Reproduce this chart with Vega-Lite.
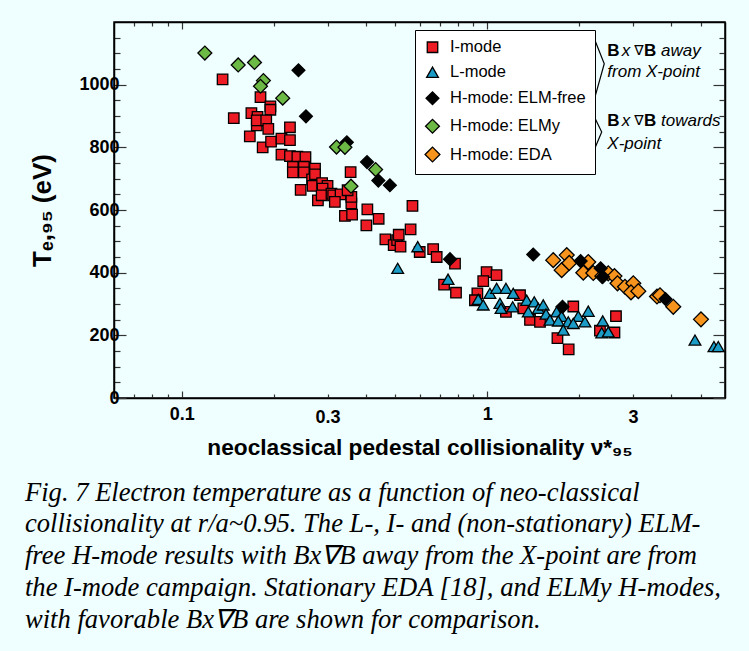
{
  "$schema": "https://vega.github.io/schema/vega-lite/v6.json",
  "width": 611,
  "height": 376,
  "autosize": "none",
  "padding": {"left": 114, "top": 22, "right": 24, "bottom": 253},
  "background": "#effefe",
  "title": {
    "text": [
      "Fig. 7 Electron temperature as a function of neo-classical",
      "collisionality at r/a~0.95. The L-, I- and (non-stationary) ELM-",
      "free H-mode results with Bx∇B away from the X-point are from",
      "the I-mode campaign. Stationary EDA [18], and ELMy H-modes,",
      "with favorable Bx∇B are shown for comparison."
    ],
    "orient": "bottom",
    "anchor": "start",
    "frame": "bounds",
    "font": "Liberation Serif",
    "fontStyle": "italic",
    "fontWeight": "normal",
    "fontSize": 26.6,
    "lineHeight": 31.8,
    "color": "black",
    "offset": 21,
    "dx": -5
  },
  "datasets": {
    "pts": [
      {"mode": "I-mode", "nu": 0.136, "te": 1017},
      {"mode": "I-mode", "nu": 0.148, "te": 893},
      {"mode": "I-mode", "nu": 0.169, "te": 909},
      {"mode": "I-mode", "nu": 0.177, "te": 897},
      {"mode": "I-mode", "nu": 0.176, "te": 870},
      {"mode": "I-mode", "nu": 0.176, "te": 886},
      {"mode": "I-mode", "nu": 0.181, "te": 960},
      {"mode": "I-mode", "nu": 0.195, "te": 931},
      {"mode": "I-mode", "nu": 0.195, "te": 920},
      {"mode": "I-mode", "nu": 0.189, "te": 886},
      {"mode": "I-mode", "nu": 0.192, "te": 859},
      {"mode": "I-mode", "nu": 0.167, "te": 835},
      {"mode": "I-mode", "nu": 0.184, "te": 800},
      {"mode": "I-mode", "nu": 0.196, "te": 818},
      {"mode": "I-mode", "nu": 0.212, "te": 828},
      {"mode": "I-mode", "nu": 0.226, "te": 823},
      {"mode": "I-mode", "nu": 0.226, "te": 864},
      {"mode": "I-mode", "nu": 0.212, "te": 777},
      {"mode": "I-mode", "nu": 0.226, "te": 772},
      {"mode": "I-mode", "nu": 0.239, "te": 770},
      {"mode": "I-mode", "nu": 0.254, "te": 769},
      {"mode": "I-mode", "nu": 0.231, "te": 738},
      {"mode": "I-mode", "nu": 0.231, "te": 720},
      {"mode": "I-mode", "nu": 0.251, "te": 738},
      {"mode": "I-mode", "nu": 0.251, "te": 720},
      {"mode": "I-mode", "nu": 0.245, "te": 664},
      {"mode": "I-mode", "nu": 0.267, "te": 698},
      {"mode": "I-mode", "nu": 0.273, "te": 732},
      {"mode": "I-mode", "nu": 0.273, "te": 714},
      {"mode": "I-mode", "nu": 0.268, "te": 677},
      {"mode": "I-mode", "nu": 0.279, "te": 631},
      {"mode": "I-mode", "nu": 0.288, "te": 686},
      {"mode": "I-mode", "nu": 0.300, "te": 677},
      {"mode": "I-mode", "nu": 0.289, "te": 668},
      {"mode": "I-mode", "nu": 0.287, "te": 647},
      {"mode": "I-mode", "nu": 0.309, "te": 652},
      {"mode": "I-mode", "nu": 0.313, "te": 647},
      {"mode": "I-mode", "nu": 0.331, "te": 650},
      {"mode": "I-mode", "nu": 0.317, "te": 626},
      {"mode": "I-mode", "nu": 0.342, "te": 581},
      {"mode": "I-mode", "nu": 0.361, "te": 585},
      {"mode": "I-mode", "nu": 0.359, "te": 621},
      {"mode": "I-mode", "nu": 0.359, "te": 642},
      {"mode": "I-mode", "nu": 0.349, "te": 663},
      {"mode": "I-mode", "nu": 0.357, "te": 721},
      {"mode": "I-mode", "nu": 0.405, "te": 602},
      {"mode": "I-mode", "nu": 0.402, "te": 551},
      {"mode": "I-mode", "nu": 0.441, "te": 572},
      {"mode": "I-mode", "nu": 0.569, "te": 613},
      {"mode": "I-mode", "nu": 0.561, "te": 538},
      {"mode": "I-mode", "nu": 0.464, "te": 506},
      {"mode": "I-mode", "nu": 0.494, "te": 488},
      {"mode": "I-mode", "nu": 0.507, "te": 504},
      {"mode": "I-mode", "nu": 0.513, "te": 521},
      {"mode": "I-mode", "nu": 0.520, "te": 483},
      {"mode": "I-mode", "nu": 0.601, "te": 466},
      {"mode": "I-mode", "nu": 0.665, "te": 475},
      {"mode": "I-mode", "nu": 0.683, "te": 450},
      {"mode": "I-mode", "nu": 0.784, "te": 429},
      {"mode": "I-mode", "nu": 0.722, "te": 362},
      {"mode": "I-mode", "nu": 0.790, "te": 336},
      {"mode": "I-mode", "nu": 0.995, "te": 402},
      {"mode": "I-mode", "nu": 1.072, "te": 392},
      {"mode": "I-mode", "nu": 0.970, "te": 373},
      {"mode": "I-mode", "nu": 0.928, "te": 334},
      {"mode": "I-mode", "nu": 0.911, "te": 312},
      {"mode": "I-mode", "nu": 1.280, "te": 328},
      {"mode": "I-mode", "nu": 1.151, "te": 275},
      {"mode": "I-mode", "nu": 1.312, "te": 286},
      {"mode": "I-mode", "nu": 1.380, "te": 249},
      {"mode": "I-mode", "nu": 1.488, "te": 243},
      {"mode": "I-mode", "nu": 1.697, "te": 191},
      {"mode": "I-mode", "nu": 1.847, "te": 155},
      {"mode": "I-mode", "nu": 1.912, "te": 292},
      {"mode": "I-mode", "nu": 2.638, "te": 261},
      {"mode": "I-mode", "nu": 2.338, "te": 215},
      {"mode": "I-mode", "nu": 2.608, "te": 209},
      {"mode": "L-mode", "nu": 0.509, "te": 414},
      {"mode": "L-mode", "nu": 0.592, "te": 483},
      {"mode": "L-mode", "nu": 0.744, "te": 379},
      {"mode": "L-mode", "nu": 0.934, "te": 315},
      {"mode": "L-mode", "nu": 0.970, "te": 297},
      {"mode": "L-mode", "nu": 1.020, "te": 334},
      {"mode": "L-mode", "nu": 1.073, "te": 350},
      {"mode": "L-mode", "nu": 1.151, "te": 350},
      {"mode": "L-mode", "nu": 1.216, "te": 334},
      {"mode": "L-mode", "nu": 1.100, "te": 302},
      {"mode": "L-mode", "nu": 1.109, "te": 286},
      {"mode": "L-mode", "nu": 1.211, "te": 291},
      {"mode": "L-mode", "nu": 1.346, "te": 312},
      {"mode": "L-mode", "nu": 1.425, "te": 307},
      {"mode": "L-mode", "nu": 1.362, "te": 275},
      {"mode": "L-mode", "nu": 1.469, "te": 286},
      {"mode": "L-mode", "nu": 1.525, "te": 297},
      {"mode": "L-mode", "nu": 1.557, "te": 268},
      {"mode": "L-mode", "nu": 1.687, "te": 275},
      {"mode": "L-mode", "nu": 1.752, "te": 261},
      {"mode": "L-mode", "nu": 1.841, "te": 243},
      {"mode": "L-mode", "nu": 1.604, "te": 249},
      {"mode": "L-mode", "nu": 1.708, "te": 246},
      {"mode": "L-mode", "nu": 1.774, "te": 217},
      {"mode": "L-mode", "nu": 2.141, "te": 277},
      {"mode": "L-mode", "nu": 1.986, "te": 261},
      {"mode": "L-mode", "nu": 1.912, "te": 238},
      {"mode": "L-mode", "nu": 2.088, "te": 243},
      {"mode": "L-mode", "nu": 2.387, "te": 246},
      {"mode": "L-mode", "nu": 2.369, "te": 208},
      {"mode": "L-mode", "nu": 2.489, "te": 211},
      {"mode": "L-mode", "nu": 4.785, "te": 185},
      {"mode": "L-mode", "nu": 5.521, "te": 164},
      {"mode": "L-mode", "nu": 5.703, "te": 164},
      {"mode": "H-mode: EDA", "nu": 1.644, "te": 440},
      {"mode": "H-mode: EDA", "nu": 1.820, "te": 456},
      {"mode": "H-mode: EDA", "nu": 1.752, "te": 408},
      {"mode": "H-mode: EDA", "nu": 1.855, "te": 431},
      {"mode": "H-mode: EDA", "nu": 2.062, "te": 400},
      {"mode": "H-mode: EDA", "nu": 2.141, "te": 434},
      {"mode": "H-mode: EDA", "nu": 2.223, "te": 399},
      {"mode": "H-mode: EDA", "nu": 2.379, "te": 389},
      {"mode": "H-mode: EDA", "nu": 2.489, "te": 398},
      {"mode": "H-mode: EDA", "nu": 2.608, "te": 389},
      {"mode": "H-mode: EDA", "nu": 2.668, "te": 366},
      {"mode": "H-mode: EDA", "nu": 2.823, "te": 355},
      {"mode": "H-mode: EDA", "nu": 3.006, "te": 366},
      {"mode": "H-mode: EDA", "nu": 2.954, "te": 337},
      {"mode": "H-mode: EDA", "nu": 3.122, "te": 341},
      {"mode": "H-mode: EDA", "nu": 3.594, "te": 324},
      {"mode": "H-mode: EDA", "nu": 3.676, "te": 328},
      {"mode": "H-mode: EDA", "nu": 4.063, "te": 291},
      {"mode": "H-mode: EDA", "nu": 5.006, "te": 251},
      {"mode": "H-mode: ELM-free", "nu": 0.241, "te": 1046},
      {"mode": "H-mode: ELM-free", "nu": 0.255, "te": 899},
      {"mode": "H-mode: ELM-free", "nu": 0.347, "te": 816},
      {"mode": "H-mode: ELM-free", "nu": 0.404, "te": 753},
      {"mode": "H-mode: ELM-free", "nu": 0.440, "te": 694},
      {"mode": "H-mode: ELM-free", "nu": 0.480, "te": 679},
      {"mode": "H-mode: ELM-free", "nu": 0.755, "te": 443},
      {"mode": "H-mode: ELM-free", "nu": 1.414, "te": 458},
      {"mode": "H-mode: ELM-free", "nu": 2.021, "te": 437},
      {"mode": "H-mode: ELM-free", "nu": 2.350, "te": 414},
      {"mode": "H-mode: ELM-free", "nu": 2.391, "te": 387},
      {"mode": "H-mode: ELM-free", "nu": 3.831, "te": 316},
      {"mode": "H-mode: ELM-free", "nu": 1.763, "te": 291},
      {"mode": "H-mode: ELMy", "nu": 0.119, "te": 1101},
      {"mode": "H-mode: ELMy", "nu": 0.153, "te": 1063},
      {"mode": "H-mode: ELMy", "nu": 0.173, "te": 1071},
      {"mode": "H-mode: ELMy", "nu": 0.185, "te": 1013},
      {"mode": "H-mode: ELMy", "nu": 0.181, "te": 995},
      {"mode": "H-mode: ELMy", "nu": 0.214, "te": 957},
      {"mode": "H-mode: ELMy", "nu": 0.321, "te": 801},
      {"mode": "H-mode: ELMy", "nu": 0.342, "te": 800},
      {"mode": "H-mode: ELMy", "nu": 0.358, "te": 676},
      {"mode": "H-mode: ELMy", "nu": 0.431, "te": 729}
    ],
    "notesItalic": [
      {"nx": 2.754, "ny": 1109, "t": "x"},
      {"nx": 3.703, "ny": 1109, "t": "away"},
      {"nx": 2.471, "ny": 1040, "t": "from X-point"},
      {"nx": 2.754, "ny": 884, "t": "x"},
      {"nx": 3.703, "ny": 884, "t": "towards"},
      {"nx": 2.471, "ny": 812, "t": "X-point"}
    ],
    "notesBold": [
      {"nx": 2.471, "ny": 1109, "t": "B"},
      {"nx": 3.258, "ny": 1109, "t": "B"},
      {"nx": 2.471, "ny": 884, "t": "B"},
      {"nx": 3.258, "ny": 884, "t": "B"}
    ],
    "notesPlain": [
      {"nx": 3.028, "ny": 1109, "t": "∇"},
      {"nx": 3.028, "ny": 884, "t": "∇"}
    ],
    "braces": [
      {"g": "away", "o": 1, "bx": 2.236, "by": 1149},
      {"g": "away", "o": 2, "bx": 2.415, "by": 1067},
      {"g": "away", "o": 3, "bx": 2.236, "by": 950},
      {"g": "towards", "o": 1, "bx": 2.236, "by": 899},
      {"g": "towards", "o": 2, "bx": 2.369, "by": 849},
      {"g": "towards", "o": 3, "bx": 2.236, "by": 791}
    ]
  },
  "layer": [
    {
      "data": {"name": "pts"},
      "mark": {"type": "point", "filled": true, "stroke": "black", "strokeWidth": 1.3, "opacity": 1},
      "encoding": {
        "x": {
          "field": "nu", "type": "quantitative",
          "scale": {"type": "log", "domain": [0.06, 6], "nice": false},
          "axis": {
            "orient": "bottom",
            "title": "neoclassical pedestal collisionality ν*₉₅",
            "titleFontSize": 22.7, "titleFontWeight": "bold", "titlePadding": 10,
            "values": [0.07, 0.08, 0.09, 0.1, 0.2, 0.3, 0.4, 0.5, 0.6, 0.7, 0.8, 0.9, 1, 2, 3, 4, 5],
            "labelExpr": "datum.value == 0.1 ? '0.1' : datum.value == 0.3 ? '0.3' : datum.value == 1 ? '1' : datum.value == 3 ? '3' : ''",
            "labelFontSize": 18, "labelFontWeight": "bold", "labelPadding": 14, "labelOverlap": false, "labelFlush": false,
            "tickSize": {"condition": {"test": "datum.value == 0.1 || datum.value == 1", "value": -7}, "value": -4}
          }
        },
        "y": {
          "field": "te", "type": "quantitative",
          "scale": {"domain": [0, 1200], "nice": false},
          "axis": {
            "orient": "left",
            "title": "Tₑ,₉₅ (eV)",
            "titleFontSize": 26, "titleFontWeight": "bold", "titlePadding": 23,
            "values": [0, 50, 100, 150, 200, 250, 300, 350, 400, 450, 500, 550, 600, 650, 700, 750, 800, 850, 900, 950, 1000, 1050, 1100, 1150],
            "format": "d",
            "labelExpr": "datum.value % 200 == 0 && datum.value <= 1000 ? datum.label : ''",
            "labelFontSize": 18, "labelFontWeight": "bold", "labelPadding": 7, "labelOverlap": false, "labelFlush": false,
            "tickSize": {"condition": {"test": "datum.value % 200 == 0", "value": -12}, "value": -6}
          }
        },
        "color": {
          "field": "mode", "type": "nominal",
          "scale": {
            "domain": ["I-mode", "L-mode", "H-mode: ELM-free", "H-mode: ELMy", "H-mode: EDA"],
            "range": ["#ed1c24", "#1b9cc6", "#000000", "#6cb945", "#f7941d"]
          },
          "legend": {
            "orient": "none", "legendX": 301, "legendY": 8, "title": null,
            "fillColor": "white", "strokeColor": "black", "padding": 9,
            "labelFont": "Liberation Sans", "labelFontSize": 16.5, "labelColor": "black",
            "rowPadding": 8, "labelOffset": 9,
            "symbolStrokeColor": "black", "symbolStrokeWidth": 1.3
          }
        },
        "shape": {
          "field": "mode", "type": "nominal",
          "scale": {
            "domain": ["I-mode", "L-mode", "H-mode: ELM-free", "H-mode: ELMy", "H-mode: EDA"],
            "range": ["square", "triangle-up", "diamond", "diamond", "diamond"]
          },
          "legend": {
            "orient": "none", "legendX": 301, "legendY": 8, "title": null,
            "fillColor": "white", "strokeColor": "black", "padding": 9,
            "labelFont": "Liberation Sans", "labelFontSize": 16.5, "labelColor": "black",
            "rowPadding": 8, "labelOffset": 9,
            "symbolStrokeColor": "black", "symbolStrokeWidth": 1.3
          }
        },
        "size": {
          "field": "mode", "type": "nominal",
          "scale": {
            "domain": ["I-mode", "L-mode", "H-mode: ELM-free", "H-mode: ELMy", "H-mode: EDA"],
            "range": [110, 220, 125, 125, 125]
          },
          "legend": {
            "orient": "none", "legendX": 301, "legendY": 8, "title": null,
            "fillColor": "white", "strokeColor": "black", "padding": 9,
            "labelFont": "Liberation Sans", "labelFontSize": 16.5, "labelColor": "black",
            "rowPadding": 8, "labelOffset": 9,
            "symbolStrokeColor": "black", "symbolStrokeWidth": 1.3
          }
        }
      }
    },
    {
      "data": {"name": "notesItalic"},
      "mark": {"type": "text", "align": "left", "baseline": "middle", "font": "Liberation Sans", "fontStyle": "italic", "fontSize": 17, "color": "black"},
      "encoding": {
        "x": {
          "field": "nx", "type": "quantitative",
          "scale": {"type": "log", "domain": [0.06, 6], "nice": false},
          "axis": {
            "orient": "top", "title": null, "labels": false,
            "values": [0.07, 0.08, 0.09, 0.1, 0.2, 0.3, 0.4, 0.5, 0.6, 0.7, 0.8, 0.9, 1, 2, 3, 4, 5],
            "tickSize": {"condition": {"test": "datum.value == 0.1 || datum.value == 1", "value": -7}, "value": -4}
          }
        },
        "y": {
          "field": "ny", "type": "quantitative",
          "scale": {"domain": [0, 1200], "nice": false},
          "axis": {
            "orient": "right", "title": null, "labels": false,
            "values": [0, 50, 100, 150, 200, 250, 300, 350, 400, 450, 500, 550, 600, 650, 700, 750, 800, 850, 900, 950, 1000, 1050, 1100, 1150],
            "tickSize": {"condition": {"test": "datum.value % 200 == 0", "value": -12}, "value": -6}
          }
        },
        "text": {"field": "t"}
      }
    },
    {
      "data": {"name": "notesBold"},
      "mark": {"type": "text", "align": "left", "baseline": "middle", "font": "Liberation Sans", "fontWeight": "bold", "fontSize": 17, "color": "black"},
      "encoding": {
        "x": {"field": "nx", "type": "quantitative", "scale": {"type": "log", "domain": [0.06, 6], "nice": false}, "axis": null},
        "y": {"field": "ny", "type": "quantitative", "scale": {"domain": [0, 1200], "nice": false}, "axis": null},
        "text": {"field": "t"}
      }
    },
    {
      "data": {"name": "notesPlain"},
      "mark": {"type": "text", "align": "left", "baseline": "middle", "font": "DejaVu Sans", "fontSize": 14, "color": "black"},
      "encoding": {
        "x": {"field": "nx", "type": "quantitative", "scale": {"type": "log", "domain": [0.06, 6], "nice": false}, "axis": null},
        "y": {"field": "ny", "type": "quantitative", "scale": {"domain": [0, 1200], "nice": false}, "axis": null},
        "text": {"field": "t"}
      }
    },
    {
      "data": {"name": "braces"},
      "mark": {"type": "line", "color": "black", "strokeWidth": 1.2},
      "encoding": {
        "x": {"field": "bx", "type": "quantitative", "scale": {"type": "log", "domain": [0.06, 6], "nice": false}, "axis": null},
        "y": {"field": "by", "type": "quantitative", "scale": {"domain": [0, 1200], "nice": false}, "axis": null},
        "detail": {"field": "g"},
        "order": {"field": "o"}
      }
    }
  ],
  "resolve": {"axis": {"x": "independent", "y": "independent"}},
  "config": {
    "view": {"stroke": "black", "strokeWidth": 1.5},
    "axis": {
      "domainColor": "black", "domainWidth": 1.5, "tickColor": "#333333", "tickWidth": 1.2, "grid": false,
      "labelColor": "black", "titleColor": "black", "labelFont": "Liberation Sans", "titleFont": "Liberation Sans"
    }
  }
}
